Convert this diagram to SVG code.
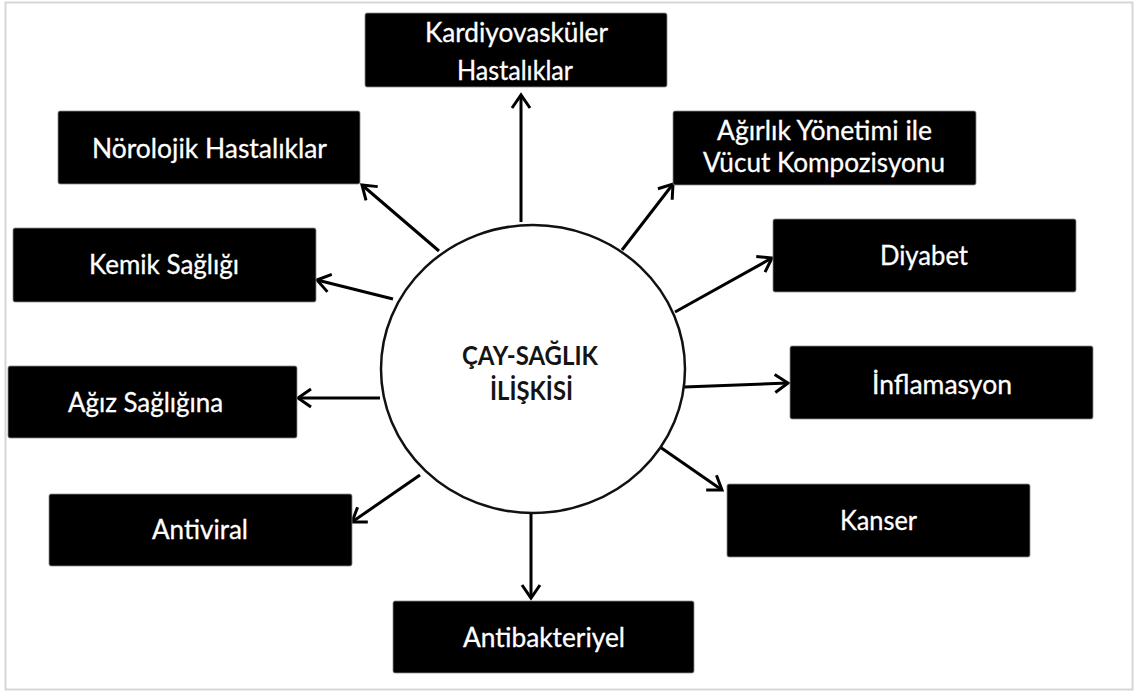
<svg xmlns="http://www.w3.org/2000/svg" width="1137" height="693" viewBox="0 0 1137 693">
  <style>
    .box { fill: #000; stroke: #8a8a8a; stroke-width: 0.8; }
    .lbl { fill: #fff; font-family: Lato, "Liberation Sans", sans-serif; font-size: 26px; stroke: #fff; stroke-width: 0.3; }
    .ctr { fill: #141414; font-family: Lato, "Liberation Sans", sans-serif; font-size: 26px; font-weight: bold; }
    .conn { stroke: #000; stroke-width: 3; fill: none; marker-end: url(#arrow); }
  </style>
  <defs>
    <marker id="arrow" markerUnits="userSpaceOnUse" viewBox="0 0 24 24" markerWidth="24" markerHeight="24" refX="18" refY="12" orient="auto">
      <path d="M5,3 L18,12 L5,21" fill="none" stroke="#000" stroke-width="3"/>
    </marker>
  </defs>
  <rect x="0" y="0" width="1137" height="693" fill="#fff"/>
  <rect x="5.5" y="2.5" width="1127" height="687" fill="#fff" stroke="#d6d6d6" stroke-width="2"/>

  <g id="connectors">
    <line class="conn" x1="521" y1="222" x2="521" y2="95"/>
    <line class="conn" x1="439" y1="251" x2="362" y2="185"/>
    <line class="conn" x1="393" y1="299" x2="317" y2="280"/>
    <line class="conn" x1="380" y1="398" x2="298" y2="398"/>
    <line class="conn" x1="420" y1="475" x2="352" y2="522"/>
    <line class="conn" x1="531" y1="513" x2="531" y2="598"/>
    <line class="conn" x1="660" y1="447" x2="722" y2="490"/>
    <line class="conn" x1="684" y1="387" x2="788" y2="383"/>
    <line class="conn" x1="675" y1="312" x2="772" y2="258"/>
    <line class="conn" x1="622" y1="250" x2="673" y2="184"/>
  </g>

  <g id="center">
    <ellipse cx="533" cy="369" rx="152" ry="144" fill="#fff" stroke="#111" stroke-width="2.5"/>
    <text class="ctr" x="462" y="365" textLength="136" lengthAdjust="spacingAndGlyphs">ÇAY-SAĞLIK</text>
    <text class="ctr" x="490" y="400" textLength="83" lengthAdjust="spacingAndGlyphs">İLİŞKİSİ</text>
  </g>

  <g id="kardiyovaskuler">
    <rect class="box" x="365" y="13" width="302" height="74" rx="2"/>
    <text class="lbl" x="425" y="42" textLength="183" lengthAdjust="spacingAndGlyphs">Kardiyovasküler</text>
    <text class="lbl" x="457" y="80" textLength="116" lengthAdjust="spacingAndGlyphs">Hastalıklar</text>
  </g>
  <g id="norolojik">
    <rect class="box" x="58" y="111" width="302" height="73" rx="2"/>
    <text class="lbl" x="92" y="158" textLength="235" lengthAdjust="spacingAndGlyphs">Nörolojik Hastalıklar</text>
  </g>
  <g id="kemik">
    <rect class="box" x="13" y="228" width="303" height="74" rx="2"/>
    <text class="lbl" x="89" y="274" textLength="150" lengthAdjust="spacingAndGlyphs">Kemik Sağlığı</text>
  </g>
  <g id="agiz">
    <rect class="box" x="8" y="366" width="289" height="72" rx="2"/>
    <text class="lbl" x="68" y="412" textLength="155" lengthAdjust="spacingAndGlyphs">Ağız Sağlığına</text>
  </g>
  <g id="antiviral">
    <rect class="box" x="49" y="494" width="303" height="72" rx="2"/>
    <text class="lbl" x="152" y="539" textLength="96" lengthAdjust="spacingAndGlyphs">Antiviral</text>
  </g>
  <g id="antibakteriyel">
    <rect class="box" x="393" y="601" width="301" height="72" rx="2"/>
    <text class="lbl" x="463" y="647" textLength="162" lengthAdjust="spacingAndGlyphs">Antibakteriyel</text>
  </g>
  <g id="kanser">
    <rect class="box" x="727" y="484" width="303" height="73" rx="2"/>
    <text class="lbl" x="840" y="530" textLength="77" lengthAdjust="spacingAndGlyphs">Kanser</text>
  </g>
  <g id="inflamasyon">
    <rect class="box" x="790" y="346" width="303" height="73" rx="2"/>
    <text class="lbl" x="872" y="394" textLength="140" lengthAdjust="spacingAndGlyphs">İnflamasyon</text>
  </g>
  <g id="diyabet">
    <rect class="box" x="773" y="219" width="303" height="73" rx="2"/>
    <text class="lbl" x="880" y="265" textLength="88" lengthAdjust="spacingAndGlyphs">Diyabet</text>
  </g>
  <g id="agirlik">
    <rect class="box" x="673" y="111" width="303" height="74" rx="2"/>
    <text class="lbl" x="717" y="140" textLength="215" lengthAdjust="spacingAndGlyphs">Ağırlık Yönetimi ile</text>
    <text class="lbl" x="703" y="172" textLength="242" lengthAdjust="spacingAndGlyphs">Vücut Kompozisyonu</text>
  </g>
</svg>
